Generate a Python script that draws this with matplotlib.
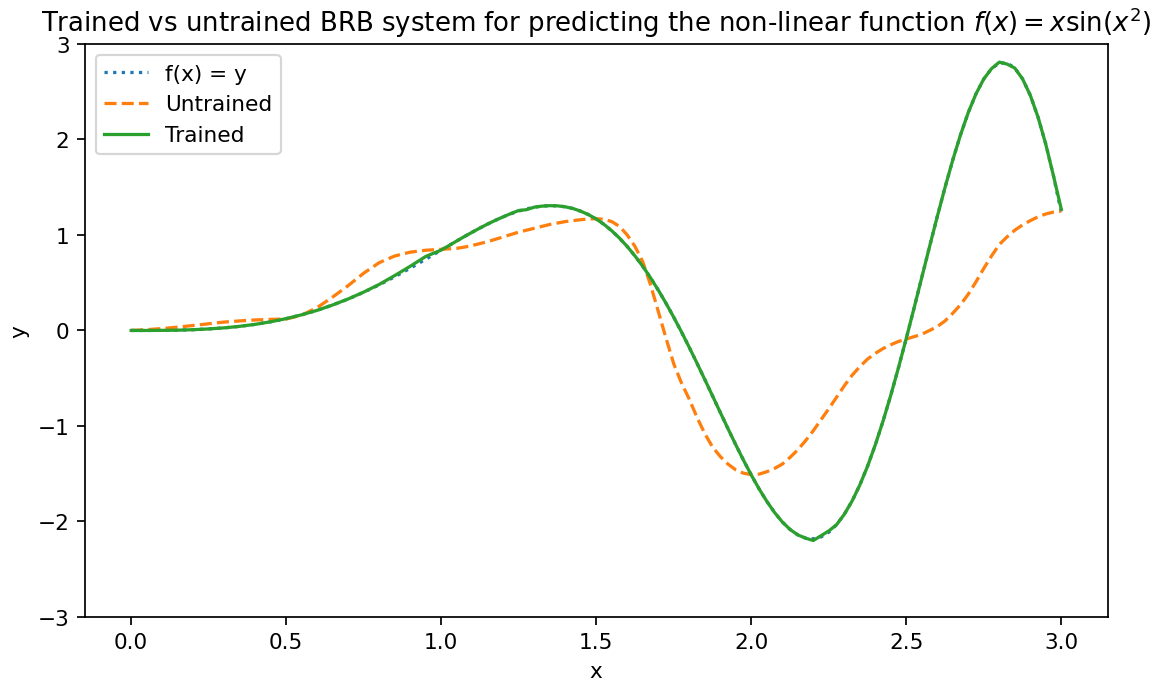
import numpy as np
import matplotlib
matplotlib.use("Agg")
import matplotlib.pyplot as plt

# sample points along x (finer spacing where the curves bend sharply)
x = [0.000, 0.050, 0.100, 0.150, 0.200, 0.250, 0.300, 0.350, 0.400, 0.450,
     0.500, 0.550, 0.600, 0.650, 0.700, 0.750, 0.800, 0.850, 0.900, 0.950,
     1.000, 1.025, 1.050, 1.075, 1.100, 1.125, 1.150, 1.175, 1.200, 1.225,
     1.250, 1.275, 1.300, 1.325, 1.350, 1.375, 1.400, 1.425, 1.450, 1.475,
     1.500, 1.525, 1.550, 1.575, 1.600, 1.625, 1.650, 1.675, 1.700, 1.725,
     1.750, 1.775, 1.800, 1.825, 1.850, 1.875, 1.900, 1.925, 1.950, 1.975,
     2.000, 2.025, 2.050, 2.075, 2.100, 2.125, 2.150, 2.175, 2.200, 2.225,
     2.250, 2.275, 2.300, 2.325, 2.350, 2.375, 2.400, 2.425, 2.450, 2.475,
     2.500, 2.525, 2.550, 2.575, 2.600, 2.625, 2.650, 2.675, 2.700, 2.725,
     2.750, 2.775, 2.800, 2.825, 2.850, 2.875, 2.900, 2.925, 2.950, 2.975,
     3.000]

# target function values
y_true = [0.000, 0.000, 0.001, 0.003, 0.008, 0.016, 0.027, 0.043, 0.064, 0.091,
          0.124, 0.164, 0.211, 0.267, 0.329, 0.400, 0.478, 0.562, 0.652, 0.745,
          0.842, 0.889, 0.937, 0.984, 1.029, 1.073, 1.115, 1.154, 1.190, 1.222,
          1.250, 1.273, 1.291, 1.302, 1.307, 1.305, 1.295, 1.277, 1.249, 1.213,
          1.167, 1.111, 1.044, 0.967, 0.879, 0.780, 0.672, 0.552, 0.423, 0.285,
          0.138, -0.016, -0.177, -0.343, -0.513, -0.685, -0.858, -1.029, -1.197, -1.359,
          -1.514, -1.658, -1.789, -1.906, -2.005, -2.084, -2.141, -2.175, -2.182, -2.163,
          -2.114, -2.035, -1.926, -1.788, -1.620, -1.423, -1.199, -0.950, -0.679, -0.388,
          -0.083, 0.233, 0.555, 0.877, 1.193, 1.498, 1.786, 2.049, 2.283, 2.479,
          2.634, 2.742, 2.800, 2.802, 2.748, 2.635, 2.463, 2.234, 1.950, 1.616,
          1.236]

# BRB output before training
y_untrained = [0.000, 0.008, 0.020, 0.035, 0.052, 0.070, 0.088, 0.100, 0.110, 0.116,
               0.120, 0.160, 0.240, 0.350, 0.470, 0.600, 0.710, 0.780, 0.820, 0.840,
               0.850, 0.855, 0.860, 0.873, 0.890, 0.910, 0.930, 0.955, 0.980, 1.005,
               1.030, 1.050, 1.070, 1.090, 1.110, 1.125, 1.140, 1.150, 1.160, 1.168,
               1.170, 1.165, 1.140, 1.090, 1.000, 0.880, 0.720, 0.480, 0.200, -0.080,
               -0.350, -0.550, -0.720, -0.910, -1.080, -1.220, -1.320, -1.400, -1.460, -1.495,
               -1.510, -1.505, -1.480, -1.445, -1.400, -1.330, -1.250, -1.155, -1.050, -0.935,
               -0.820, -0.700, -0.580, -0.470, -0.380, -0.300, -0.240, -0.190, -0.150, -0.115,
               -0.090, -0.065, -0.040, 0.000, 0.040, 0.100, 0.180, 0.270, 0.380, 0.510,
               0.650, 0.780, 0.900, 0.980, 1.050, 1.105, 1.150, 1.190, 1.220, 1.240,
               1.250]

# BRB output after training
y_trained = [0.000, 0.000, 0.001, 0.003, 0.008, 0.016, 0.027, 0.043, 0.064, 0.091,
             0.124, 0.164, 0.211, 0.267, 0.330, 0.402, 0.482, 0.575, 0.672, 0.775,
             0.842, 0.889, 0.937, 0.984, 1.029, 1.073, 1.115, 1.154, 1.190, 1.225,
             1.256, 1.265, 1.291, 1.302, 1.307, 1.305, 1.295, 1.277, 1.249, 1.213,
             1.167, 1.111, 1.044, 0.967, 0.879, 0.780, 0.672, 0.552, 0.423, 0.285,
             0.138, -0.016, -0.177, -0.343, -0.513, -0.685, -0.858, -1.029, -1.197, -1.359,
             -1.514, -1.658, -1.789, -1.906, -2.005, -2.084, -2.141, -2.175, -2.200, -2.150,
             -2.100, -2.035, -1.926, -1.788, -1.620, -1.423, -1.199, -0.950, -0.679, -0.388,
             -0.083, 0.233, 0.555, 0.877, 1.193, 1.498, 1.786, 2.049, 2.283, 2.479,
             2.634, 2.742, 2.810, 2.790, 2.748, 2.635, 2.463, 2.234, 1.950, 1.616,
             1.270]

fig, ax = plt.subplots(figsize=(1160 / 156, 682 / 156), dpi=156)
fig.subplots_adjust(left=0.073, right=0.955, top=0.934, bottom=0.094)

ax.plot(x, y_true, ':', label='f(x) = y')
ax.plot(x, y_untrained, '--', label='Untrained')
ax.plot(x, y_trained, '-', label='Trained')

ax.set_ylim([-3, 3])
ax.set_xlabel('x')
ax.set_ylabel('y')
ax.set_title(r'Trained vs untrained BRB system for predicting the non-linear function $f(x) = x\sin(x^2)$')
ax.legend(loc='upper left')

fig.savefig('out.png', dpi=156)
